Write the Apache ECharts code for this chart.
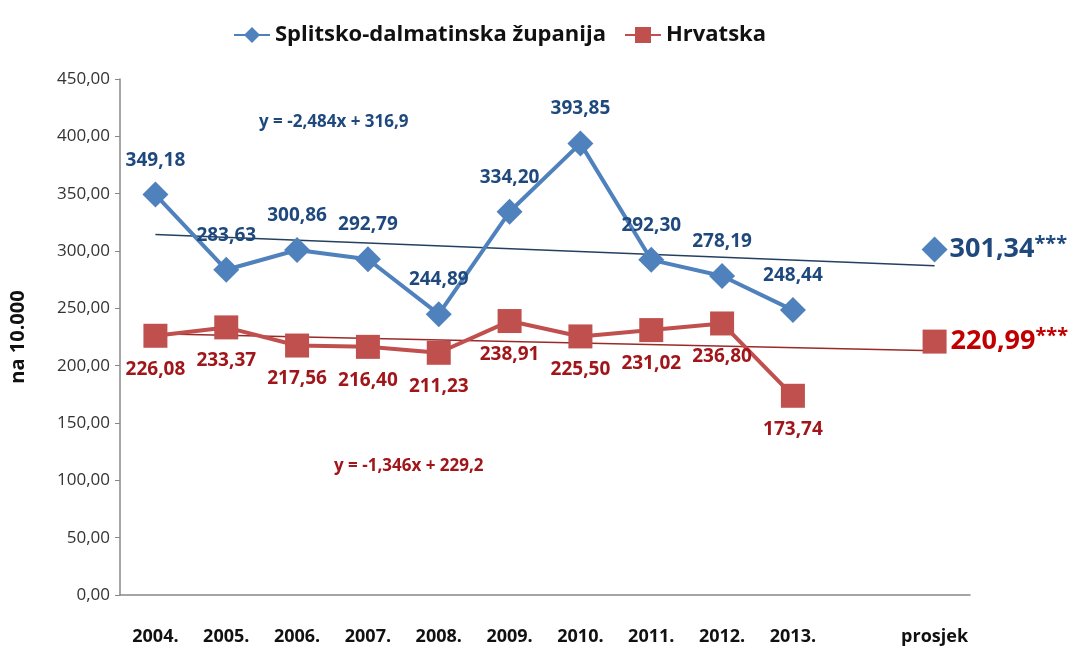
<!DOCTYPE html>
<html>
<head>
<meta charset="utf-8">
<script src="https://cdn.jsdelivr.net/npm/echarts@6/dist/echarts.min.js"></script>
<style>
  html, body { margin: 0; padding: 0; background: #fff; }
  #chart { width: 1075px; height: 652px; }
</style>
</head>
<body>
<div id="chart"></div>
<script>
var categories = ['2004.', '2005.', '2006.', '2007.', '2008.', '2009.', '2010.', '2011.', '2012.', '2013.', '', 'prosjek'];
var splitValues = [349.18, 283.63, 300.86, 292.79, 244.89, 334.20, 393.85, 292.30, 278.19, 248.44];
var hrvValues = [226.08, 233.37, 217.56, 216.40, 211.23, 238.91, 225.50, 231.02, 236.80, 173.74];
var splitAvg = 301.34;
var hrvAvg = 220.99;
// trend line ends (2004 and prosjek)
var splitTrend = [314.42, 287.09];
var hrvTrend = [227.85, 213.05];

var font = '"Open Sans", sans-serif';
var blue = '#4F81BD', blueText = '#1F497D';
var red = '#C0504D', redText = '#A0161A';

function fmt(v) { return v.toFixed(2).replace('.', ','); }

function lineData(values) {
  var out = values.map(function (v) { return v; });
  out.push(null, null);
  return out;
}

var chart = echarts.init(document.getElementById('chart'));
var option = {
  backgroundColor: '#fff',
  textStyle: { fontFamily: font },
  legend: {
    top: 19,
    left: 228,
    itemWidth: 36,
    itemHeight: 20,
    itemGap: 18,
    textStyle: { fontFamily: font, fontSize: 22, fontWeight: 'bold', color: '#111' },
    data: ['Splitsko-dalmatinska županija', 'Hrvatska']
  },
  grid: { left: 120, right: 105, top: 79, bottom: 57 },
  xAxis: {
    type: 'category',
    data: categories,
    boundaryGap: true,
    axisLine: { lineStyle: { color: '#888', width: 1.5 } },
    axisTick: { show: false },
    axisLabel: { interval: 0, margin: 33, fontSize: 18, fontWeight: 'bold', color: '#111', fontFamily: font }
  },
  yAxis: {
    type: 'value',
    min: 0,
    max: 450,
    interval: 50,
    name: 'na 10.000',
    nameLocation: 'middle',
    nameGap: 92,
    nameRotate: 90,
    nameTextStyle: { fontSize: 20, fontWeight: 'bold', color: '#111', fontFamily: font },
    splitLine: { show: false },
    axisLine: { show: true, lineStyle: { color: '#888', width: 1.5 } },
    axisTick: { show: true, length: 5, lineStyle: { color: '#888' } },
    axisLabel: { fontSize: 17, color: '#333', margin: 10, fontFamily: font, formatter: function (v) { return fmt(v); } }
  },
  series: [
    {
      name: 'Splitsko-dalmatinska županija',
      type: 'line',
      data: lineData(splitValues),
      symbol: 'diamond',
      symbolSize: 26,
      lineStyle: { color: blue, width: 4 },
      itemStyle: { color: blue },
      label: {
        show: true, position: 'top', distance: 12, fontSize: 19, fontWeight: 'bold', color: blueText,
        fontFamily: font, formatter: function (p) { return fmt(p.value); }
      },
      z: 3
    },
    {
      name: 'Hrvatska',
      type: 'line',
      data: lineData(hrvValues),
      symbol: 'rect',
      symbolSize: 24,
      lineStyle: { color: red, width: 4 },
      itemStyle: { color: red },
      label: {
        show: true, position: 'bottom', distance: 12, fontSize: 19, fontWeight: 'bold', color: redText,
        fontFamily: font, formatter: function (p) { return fmt(p.value); }
      },
      z: 3
    },
    {
      name: 'splitTrend',
      type: 'line',
      data: [[0, splitTrend[0]], [11, splitTrend[1]]],
      symbol: 'none',
      lineStyle: { color: '#24405F', width: 1.5 },
      silent: true,
      z: 2
    },
    {
      name: 'hrvTrend',
      type: 'line',
      data: [[0, hrvTrend[0]], [11, hrvTrend[1]]],
      symbol: 'none',
      lineStyle: { color: '#9A2A28', width: 1.5 },
      silent: true,
      z: 2
    },
    {
      name: 'splitAvg',
      type: 'line',
      data: [[11, splitAvg]],
      symbol: 'diamond',
      symbolSize: 26,
      itemStyle: { color: blue },
      label: {
        show: true, position: 'right', distance: 2,
        formatter: function (p) { return '{v|' + fmt(p.value[1]) + '}{s|***}'; },
        rich: {
          v: { fontSize: 27, fontWeight: 'bold', color: blueText, fontFamily: font },
          s: { fontSize: 20, fontWeight: 'bold', color: blueText, fontFamily: font, padding: [0, 0, 10, 0] }
        }
      },
      z: 4
    },
    {
      name: 'hrvAvg',
      type: 'line',
      data: [[11, hrvAvg]],
      symbol: 'rect',
      symbolSize: 24,
      itemStyle: { color: red },
      label: {
        show: true, position: 'right', distance: 4,
        formatter: function (p) { return '{v|' + fmt(p.value[1]) + '}{s|***}'; },
        rich: {
          v: { fontSize: 27, fontWeight: 'bold', color: '#C00000', fontFamily: font },
          s: { fontSize: 20, fontWeight: 'bold', color: '#C00000', fontFamily: font, padding: [0, 0, 10, 0] }
        }
      },
      z: 4
    }
  ],
  graphic: [
    { type: 'text', left: 259, top: 114, style: { text: 'y = -2,484x + 316,9', fill: blueText, font: 'bold 17px ' + font } },
    { type: 'text', left: 334, top: 458, style: { text: 'y = -1,346x + 229,2', fill: redText, font: 'bold 17px ' + font } }
  ]
};
chart.setOption(option);
window.addEventListener('resize', chart.resize);
</script>
</body>
</html>
